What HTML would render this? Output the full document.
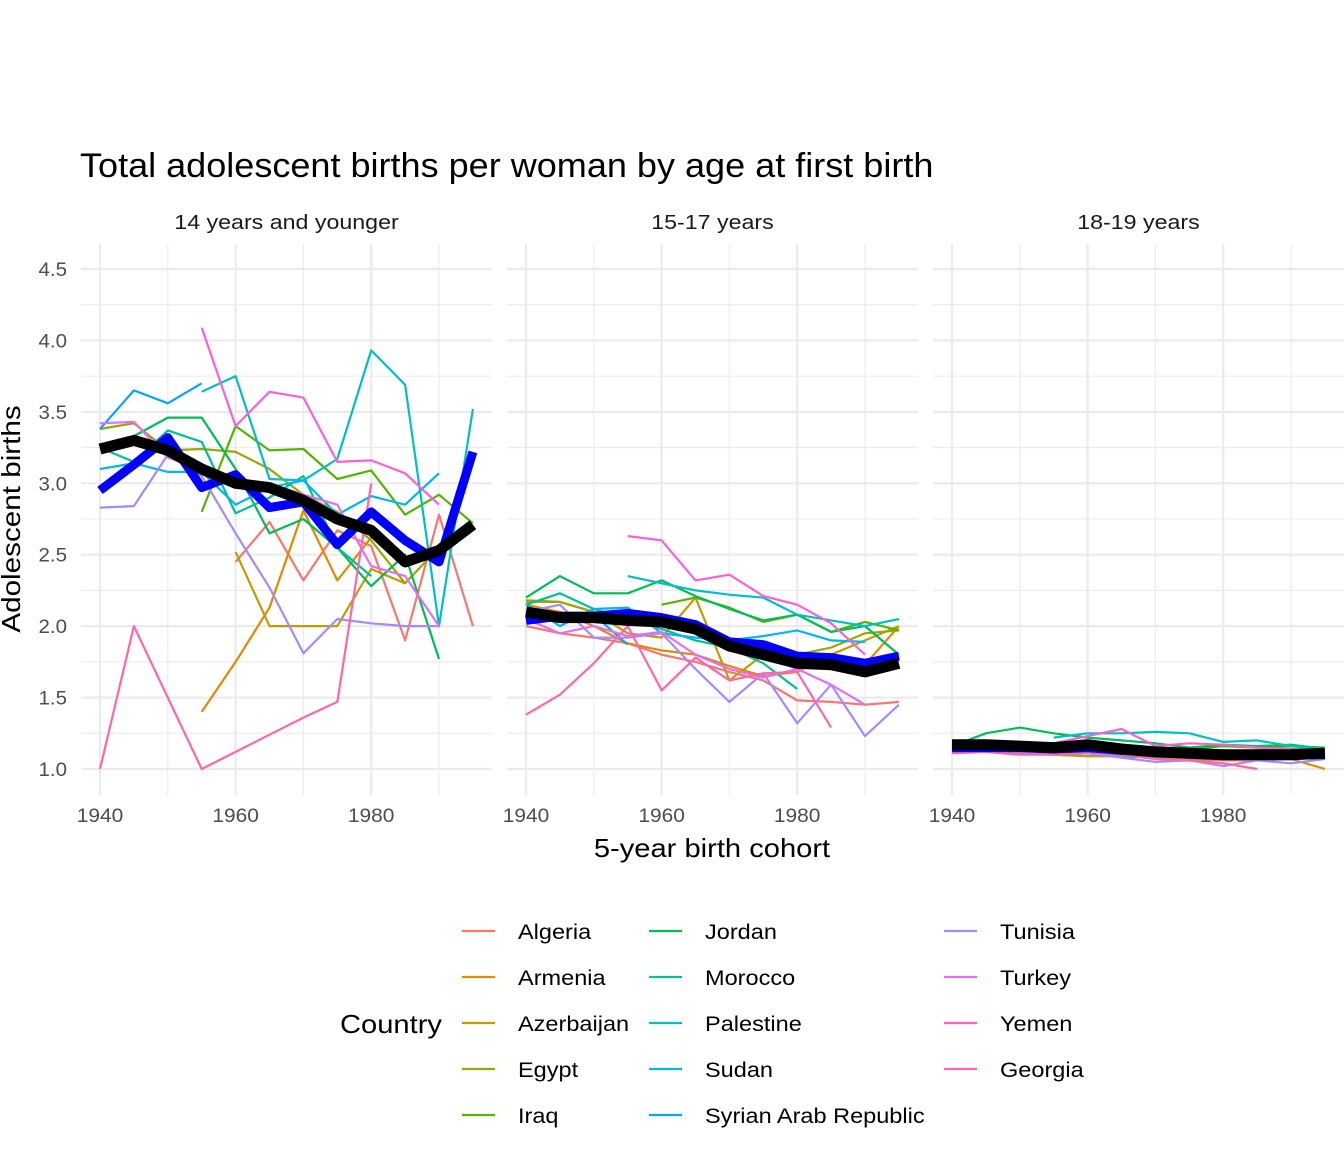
<!DOCTYPE html>
<html><head><meta charset="utf-8"><style>
html,body{margin:0;padding:0;background:#fff;}
svg{display:block;font-family:"Liberation Sans",Arial,sans-serif;}
</style></head><body>
<svg id="chart" width="1344" height="1152" viewBox="0 0 1344 1152">
<text x="80" y="177" font-size="34" fill="#000" data-stretch="1.06">Total adolescent births per woman by age at first birth</text>
<g id="panels"></g>
<text x="712" y="857" font-size="26" text-anchor="middle" fill="#000" data-stretch="1.12">5-year birth cohort</text>
<text transform="translate(20,519) rotate(-90)" font-size="26" text-anchor="middle" fill="#000" data-stretch="1.14">Adolescent births</text>
<g id="legend">
<text x="340" y="1033" font-size="26" fill="#000" data-stretch="1.12">Country</text>
</g>
</svg>
<script>
const years=[1940,1945,1950,1955,1960,1965,1970,1975,1980,1985,1990,1995];
const panelLabels=["14 years and younger","15-17 years","18-19 years"];
const yTicks=[1.0,1.5,2.0,2.5,3.0,3.5,4.0,4.5];
const xTicks=[1940,1960,1980];
const countries=["Algeria","Armenia","Azerbaijan","Egypt","Iraq","Jordan","Morocco","Palestine","Sudan","Syrian Arab Republic","Tunisia","Turkey","Yemen","Georgia"];
const colors=["#F8766D","#E38900","#C49A00","#99A800","#53B400","#00BC56","#00C094","#00BFC4","#00B6EB","#06A4FF","#A58AFF","#DF70F8","#FB61D7","#FF66A8"];
const N=null;
const p1=[
[N,N,N,N,2.45,2.73,2.32,2.67,2.56,1.90,2.78,2.0],
[N,N,N,1.40,1.75,2.13,2.81,2.32,2.62,N,N,N],
[N,N,N,N,2.52,2.0,2.0,2.0,2.4,2.3,N,N],
[3.38,3.42,3.23,3.24,3.22,3.10,2.92,2.80,2.60,2.30,2.55,N],
[N,N,N,2.80,3.40,3.23,3.24,3.03,3.09,2.78,2.92,2.72],
[3.25,3.33,3.46,3.46,3.10,2.65,2.75,2.55,2.28,2.50,1.77,N],
[3.25,3.15,3.37,3.29,2.79,2.90,3.05,2.55,2.35,N,N,N],
[N,N,N,3.64,3.75,3.03,3.02,3.17,3.93,3.69,2.0,3.52],
[3.10,3.14,3.08,3.08,2.85,2.97,3.02,2.78,2.91,2.85,3.07,N],
[3.38,3.65,3.56,3.70,N,N,N,N,N,N,N,N],
[2.83,2.84,3.20,3.05,2.65,2.27,1.81,2.05,2.02,2.0,2.0,N],
[3.42,3.43,3.18,3.10,3.0,3.0,2.92,2.85,2.42,2.35,2.0,N],
[N,N,N,4.09,3.40,3.64,3.60,3.15,3.16,3.07,2.85,N],
[1.0,2.0,1.5,1.0,1.12,1.24,1.36,1.47,3.0,N,N,N]];
const p2=[
[2.0,1.95,1.92,1.88,1.80,1.75,1.68,1.62,1.48,1.47,1.45,1.47],
[2.15,2.10,2.0,1.88,1.83,1.80,1.72,1.65,1.68,1.80,1.73,2.0],
[2.17,2.17,2.10,1.95,1.92,2.20,1.62,1.80,1.70,1.80,1.90,2.0],
[2.18,2.17,2.10,2.05,2.0,1.95,1.90,1.85,1.80,1.85,1.95,1.97],
[N,N,N,N,2.15,2.20,2.13,2.03,2.08,1.96,2.03,1.97],
[2.20,2.35,2.23,2.23,2.32,2.21,2.12,2.04,2.08,1.96,2.0,1.80],
[2.15,2.23,2.12,2.05,1.98,1.90,1.85,1.74,1.56,N,N,N],
[N,N,N,2.35,2.30,2.25,2.22,2.20,2.08,2.04,2.0,2.05],
[2.15,2.0,2.12,2.13,1.95,1.92,1.90,1.93,1.97,1.90,1.89,N],
[2.10,2.05,2.08,1.87,N,N,N,N,N,N,N,N],
[2.10,2.15,1.92,1.92,1.95,1.70,1.47,1.67,1.32,1.59,1.23,1.45],
[2.05,1.95,2.0,1.93,1.96,1.80,1.70,1.64,1.70,1.59,1.45,N],
[N,N,N,2.63,2.60,2.32,2.36,2.21,2.15,2.02,1.80,N],
[1.38,1.52,1.74,2.0,1.55,1.78,1.62,1.67,1.68,1.29,N,N]];
const p3=[
[1.12,1.13,1.12,1.11,1.11,1.10,1.09,1.07,1.06,1.06,1.07,1.08],
[1.13,1.13,1.11,1.10,1.09,1.09,1.08,1.07,1.07,1.08,1.07,1.0],
[1.12,1.12,1.11,1.10,1.09,1.09,1.08,1.08,1.07,1.08,1.08,1.10],
[1.16,1.16,1.15,1.15,1.16,1.14,1.13,1.12,1.12,1.13,1.14,1.14],
[N,N,N,N,1.18,1.17,1.15,1.14,1.16,1.15,1.16,1.15],
[1.16,1.25,1.29,1.25,1.22,1.20,1.18,1.15,1.17,1.16,1.17,1.14],
[1.15,1.15,1.14,1.13,1.14,1.12,1.10,1.09,1.09,N,N,N],
[N,N,N,1.22,1.25,1.25,1.26,1.25,1.19,1.20,1.16,1.14],
[1.13,1.12,1.12,1.11,1.12,1.08,1.09,1.09,1.08,1.08,1.09,N],
[1.14,1.13,1.12,1.12,N,N,N,N,N,N,N,N],
[1.12,1.13,1.12,1.11,1.11,1.08,1.05,1.06,1.02,1.06,1.04,1.07],
[1.13,1.13,1.12,1.12,1.14,1.12,1.12,1.11,1.11,1.10,1.09,N],
[N,N,N,1.18,1.23,1.28,1.16,1.18,1.17,1.15,1.14,N],
[1.11,1.12,1.10,1.10,1.12,1.10,1.07,1.06,1.04,1.0,N,N]];
const blueAvg=[
[2.95,3.13,3.32,2.97,3.06,2.83,2.87,2.57,2.80,2.60,2.45,3.22],
[2.04,2.07,2.07,2.09,2.06,2.01,1.89,1.87,1.79,1.78,1.74,1.79],
[1.15,1.15,1.15,1.14,1.15,1.13,1.12,1.11,1.10,1.10,1.10,1.10]];
const blackAvg=[
[3.24,3.30,3.23,3.10,3.00,2.97,2.88,2.75,2.67,2.45,2.53,2.71],
[2.10,2.06,2.06,2.04,2.03,1.98,1.86,1.80,1.74,1.73,1.68,1.74],
[1.17,1.17,1.16,1.15,1.17,1.14,1.12,1.11,1.10,1.10,1.10,1.11]];
const panelData=[p1,p2,p3];

const NS="http://www.w3.org/2000/svg";
const panelsG=document.getElementById('panels');
const panelLeft=[81,507,933], panelW=411, pTop=244, pBot=795;
const x0=19, pxPerYear=6.78;
function xScale(p,yr){return panelLeft[p]+x0+(yr-1940)*pxPerYear;}
function yScale(v){return 769-(v-1)*142.86;}
function mk(tag,attrs,parent){const e=document.createElementNS(NS,tag);for(const k in attrs)e.setAttribute(k,attrs[k]);parent.appendChild(e);return e;}
function pathFor(p,vals){let d="",pen=false;vals.forEach((v,i)=>{if(v===null){pen=false;return;}d+=(pen?"L":"M")+xScale(p,years[i]).toFixed(1)+","+yScale(v).toFixed(1);pen=true;});return d;}

for(let p=0;p<3;p++){
  const g=mk('g',{},panelsG);
  
  
  for(let v=0.75;v<=4.75;v+=0.5){const y=yScale(v);if(y<pTop||y>pBot)continue;mk('line',{x1:panelLeft[p],x2:panelLeft[p]+panelW,y1:y,y2:y,stroke:'#ebebeb','stroke-width':1.1},g);}
  [1950,1970,1990].forEach(yr=>{const x=xScale(p,yr);mk('line',{x1:x,x2:x,y1:pTop,y2:pBot,stroke:'#ebebeb','stroke-width':1.1},g);});
  yTicks.forEach(v=>{const y=yScale(v);mk('line',{x1:panelLeft[p],x2:panelLeft[p]+panelW,y1:y,y2:y,stroke:'#ebebeb','stroke-width':2.2},g);});
  xTicks.forEach(yr=>{const x=xScale(p,yr);mk('line',{x1:x,x2:x,y1:pTop,y2:pBot,stroke:'#ebebeb','stroke-width':2.2},g);
    const t=mk('text',{x:x,y:822,'font-size':19,'text-anchor':'middle',fill:'#4d4d4d','data-stretch':'1.1'},g);t.textContent=yr;
    
    });
  const st=mk('text',{x:panelLeft[p]+panelW/2,y:229,'font-size':20,'text-anchor':'middle',fill:'#1a1a1a','data-stretch':'1.16'},g);
  st.textContent=panelLabels[p];
  
  
  panelData[p].forEach((vals,ci)=>{
    const pa=mk('path',{d:pathFor(p,vals),fill:'none',stroke:colors[ci],'stroke-width':2.2,'stroke-linejoin':'round'},g);
    
    
  });
  const bl=mk('path',{d:pathFor(p,blueAvg[p]),fill:'none',stroke:'#0000FF','stroke-width':9,'stroke-linejoin':'round'},g);
  
  
  const bk=mk('path',{d:pathFor(p,blackAvg[p]),fill:'none',stroke:'#000','stroke-width':11,'stroke-linejoin':'round'},g);
  
  
}
yTicks.forEach(v=>{const t=mk('text',{x:67,y:yScale(v)+7,'font-size':19,'text-anchor':'end',fill:'#4d4d4d','data-stretch':'1.08'},panelsG);t.textContent=v.toFixed(1);
  
  });

const lg=document.getElementById('legend');
const colX=[462,649,944], rowY=[931,977,1023,1069,1115];
countries.forEach((c,i)=>{
  const col=i<5?0:(i<10?1:2), row=i<5?i:(i<10?i-5:i-10);
  const eg=mk('g',{},lg);
  
  
  mk('line',{x1:colX[col],x2:colX[col]+33,y1:rowY[row],y2:rowY[row],stroke:colors[i],'stroke-width':2.2},eg);
  const t=mk('text',{x:colX[col]+56,y:rowY[row]+8,'font-size':21,fill:'#000','data-stretch':'1.12'},eg);t.textContent=c;
});
document.querySelectorAll('text[data-stretch]').forEach(t=>{
  const f=parseFloat(t.getAttribute('data-stretch'));
  const L=t.getComputedTextLength();
  if(L>0){t.setAttribute('textLength',(L*f).toFixed(1));t.setAttribute('lengthAdjust','spacingAndGlyphs');}
});
</script>
</body></html>
